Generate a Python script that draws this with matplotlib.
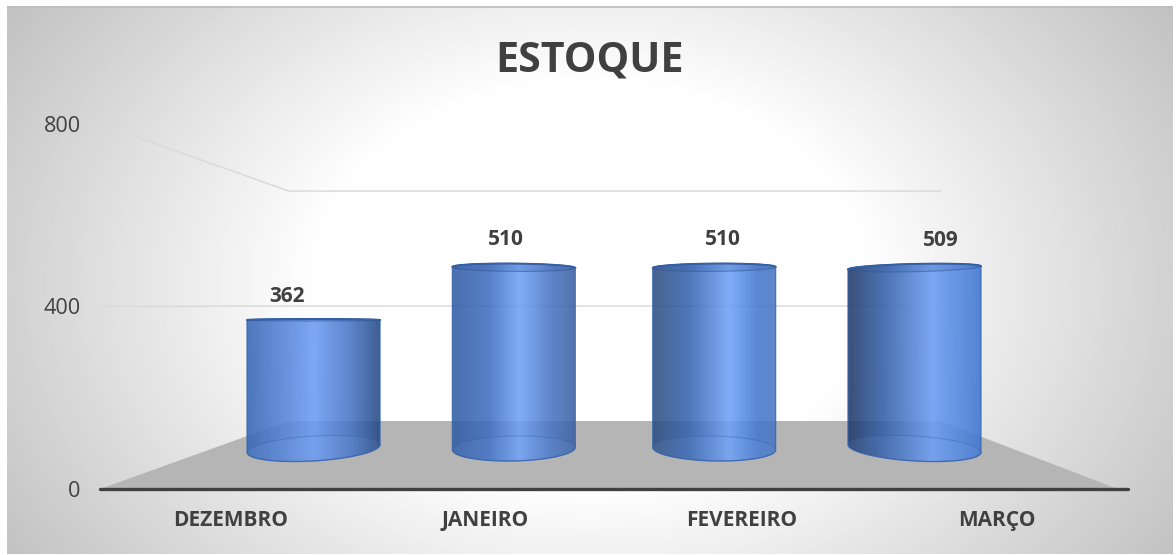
import numpy as np
import matplotlib
matplotlib.use("Agg")
import matplotlib.pyplot as plt
from matplotlib.path import Path
from matplotlib.patches import PathPatch
from matplotlib.colors import LinearSegmentedColormap, to_rgb

# ---- data
title = "ESTOQUE"
categories = ["DEZEMBRO", "JANEIRO", "FEVEREIRO", "MARÇO"]
values = [362, 510, 510, 509]
y_ticks = [0, 400, 800]

# ---- style
W, H = 1176, 555
TXT = "#404040"
FONT = ["Open Sans", "DejaVu Sans"]
bar_widths = [0.664, 0.614, 0.614, 0.664]
cat_x = [0.008, 1.0, 1.995, 2.988]
label_dx = [-27, -8, 9, 26]
label_dy = [23, 28, 28, 27]
bar_stops = [
    [(0, "#4F78BE"), (0.5, "#7CA8F5"), (0.78, "#5C84CA"), (1, "#3D5C90")],
    [(0, "#4A6FAE"), (0.3, "#5580C8"), (0.55, "#80ADF8"), (0.8, "#5F86CC"), (1, "#5473AB")],
    [(0, "#46638F"), (0.3, "#4E77BC"), (0.62, "#80ADF8"), (0.85, "#5B88D4"), (1, "#5F86C8")],
    [(0, "#3A5078"), (0.25, "#4A70B0"), (0.63, "#7CA8F5"), (1, "#5485D5")],
]
ALPHA = 0.88
HORIZON = 362      # value at which the cylinder lids are seen edge-on
K_ELL = 0.097
K_LID = 0.075
K_TILT = 0.02


def box(x0, y0, x1, y1):
    """pixel box (top-left origin) to figure fractions"""
    return [x0 / W, 1 - y1 / H, (x1 - x0) / W, (y1 - y0) / H]


fig = plt.figure(figsize=(W / 100, H / 100), dpi=100, facecolor="white")

# ---- background panel
ax_bg = fig.add_axes(box(7, 6, 1173, 554))
yy, xx = np.mgrid[6:554:274j, 7:1173:583j]
r = np.sqrt(((xx - 590) / 680) ** 2 + ((yy - 285) / 500) ** 2)
t = np.clip((r - 0.40) / (1.03 - 0.40), 0, 1)
shade = 1 - t * (1 - 0.755)
ax_bg.imshow(shade, cmap="gray", vmin=0, vmax=1, aspect="auto",
             extent=(7, 1173, 554, 6), interpolation="bilinear")
ax_bg.axhline(6.6, color="#BDBDBD", lw=1.2)
ax_bg.axis("off")

# ---- wall / floor axes: front plane of the plot box
ax = fig.add_axes(box(100, 124.0, 1128, 489), facecolor="none")
ax.set_xlim(-0.5, 3.5)
ax.set_ylim(0, 800)
BACK_Y0 = 149.0
BACK_SY = 0.63
BX0, BX1 = 0.235, 2.769


def back(v):
    return BACK_Y0 + BACK_SY * v


ax.fill([-0.5, BX0, BX1, 3.46], [0, back(0), back(0), 0], color="#B5B5B5", lw=0, zorder=1)
for v in y_ticks[1:]:
    ax.plot([-0.5, BX0, BX1], [v, back(v), back(v)], color="#DADADA", lw=1.1,
            zorder=1, clip_on=False)
ax.plot([-0.5, 3.5], [0, 0], color="#404040", lw=2.4, solid_capstyle="round",
        zorder=3, clip_on=False)
for s in ax.spines.values():
    s.set_visible(False)
ax.set_xticks(cat_x)
ax.set_xticklabels(categories, fontfamily=FONT, fontweight="bold", fontsize=15, color=TXT,
                   va="baseline")
ax.set_yticks(y_ticks)
ax.set_yticklabels([str(v) for v in y_ticks], fontfamily=FONT, fontsize=15.6, color=TXT)
ax.tick_params(axis="x", length=0, pad=26.5)
ax.tick_params(axis="y", length=0, pad=14)

# ---- cylinders axes: mid-depth plane
ax_b = fig.add_axes(box(100, 0, 1128, H), facecolor="none")
ax_b.axis("off")
XL = (-1.066, 4.066)
YS = 0.355
YL = (-(H - 448.5) / YS, 448.5 / YS)


def ellipse(xc, v, hw, t):
    cx = xc - 1.5
    k = K_ELL if v < HORIZON else K_LID
    hh = max(k * abs(v - HORIZON), 3.0)
    tilt = -cx * (HORIZON - v) * K_TILT
    return xc + hw * np.cos(t), v + hh * np.sin(t) + tilt * np.cos(t)


for i, v in enumerate(values):
    hw = bar_widths[i] / 2
    # silhouette: back of lid, left edge, front of base, right edge
    tt = np.linspace(0, np.pi, 80)
    xt, yt = ellipse(i, v, hw, tt)
    bb = np.linspace(np.pi, 2 * np.pi, 80)
    xb, yb = ellipse(i, 0, hw, bb)
    xs = np.r_[xt, xb]
    ys = np.r_[yt, yb]
    verts = np.c_[xs, ys]
    path = Path(np.vstack([verts, verts[0]]), closed=True)

    stops = []
    for p, c in bar_stops[i]:
        rgb = np.array(to_rgb(c))
        stops.append((p, tuple(np.clip((rgb - (1 - ALPHA)) / ALPHA, 0, 1))))
    cmap = LinearSegmentedColormap.from_list(f"b{i}", stops)
    grad = np.linspace(0, 1, 256)[None, :]
    im = ax_b.imshow(grad, cmap=cmap, aspect="auto", alpha=ALPHA, zorder=4,
                     extent=(i - hw, i + hw, ys.min(), ys.max()), interpolation="bilinear")
    clip = PathPatch(path, transform=ax_b.transData, fc="none", ec="none")
    ax_b.add_patch(clip)
    im.set_clip_path(clip)

    # inner base ellipse (lighter) and lid
    t_all = np.linspace(0, 2 * np.pi, 160)
    xe, ye = ellipse(i, 0, hw, t_all)
    ax_b.fill(xe, ye, color="#8DB4F5", alpha=0.10, lw=0, zorder=5)
    ax_b.plot(xe, ye, color="#2F5FA8", alpha=0.35, lw=0.8, zorder=6)
    xl, yl = ellipse(i, v, hw, t_all)
    ax_b.fill(xl, yl, color="#2F5597", alpha=0.18, lw=0, zorder=6)
    ax_b.plot(xl, yl, color="#2F5597", alpha=0.55, lw=0.8, zorder=7)
    ax_b.plot(xt, yt, color="#2F5597", lw=1.3, zorder=7)
    ax_b.add_patch(PathPatch(path, fc="none", ec="#3565AE", lw=0.9, alpha=0.85, zorder=7))

    ax_b.annotate(str(v), xy=(i, v), xytext=(label_dx[i], label_dy[i]),
                  textcoords="offset pixels", ha="center", va="center",
                  fontfamily=FONT, fontweight="bold", fontsize=15, color=TXT, zorder=8)

ax_b.set_xlim(*XL)
ax_b.set_ylim(*YL)

fig.text(590 / W, 1 - 61 / H, title, ha="center", va="center", fontfamily=FONT,
         fontweight="bold", fontsize=29.6, color=TXT)

fig.savefig("out.png", dpi=100, facecolor="white")
